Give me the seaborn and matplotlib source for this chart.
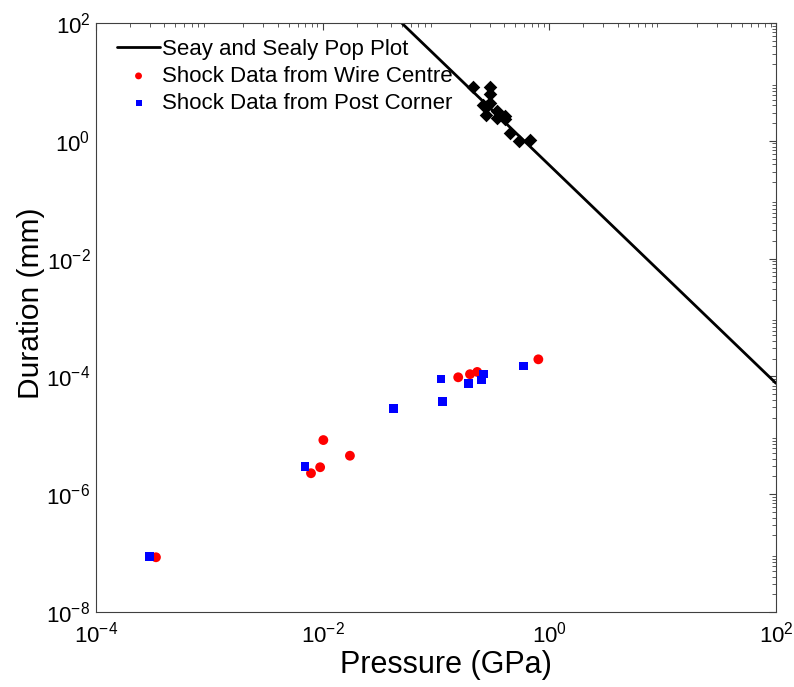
import matplotlib
matplotlib.use("Agg")
import matplotlib.pyplot as plt
import seaborn as sns
import numpy as np
import pandas as pd
from matplotlib.ticker import LogLocator, NullFormatter, FixedLocator, LogFormatterSciNotation

# ---- data ----
pop_x = [0.04, 100.0]
pop_y = [150.0, 7.64e-5]

diamond_x = [0.212, 0.301, 0.301, 0.258, 0.282, 0.301, 0.276, 0.345, 0.345, 0.403, 0.41, 0.453, 0.543, 0.680]
diamond_y = [8.19, 8.19, 6.15, 4.0, 3.90, 4.33, 2.71, 3.21, 2.47, 2.64, 2.37, 1.34, 0.99, 1.03]

wire_x = [0.80, 0.157, 0.1995, 0.231, 0.01014, 0.0174, 0.0095, 0.00789, 3.38e-4]
wire_y = [1.95e-4, 9.66e-5, 1.09e-4, 1.19e-4, 8.3e-6, 4.5e-6, 2.87e-6, 2.27e-6, 8.5e-8]

post_x = [0.589, 0.111, 0.193, 0.253, 0.261, 0.1146, 0.042, 0.00698, 2.95e-4]
post_y = [1.50e-4, 9.04e-5, 7.64e-5, 8.69e-5, 1.09e-4, 3.72e-5, 2.87e-5, 2.93e-6, 8.7e-8]

x_ticks = [1e-4, 1e-2, 1e0, 1e2]
y_ticks = [1e-8, 1e-6, 1e-4, 1e-2, 1e0, 1e2]

labels = ["Seay and Sealy Pop Plot", "Shock Data from Wire Centre", "Shock Data from Post Corner"]

sns.set_style("white")
plt.rcParams['font.family'] = ['Liberation Sans', 'DejaVu Sans']
plt.rcParams['mathtext.fontset'] = 'custom'
plt.rcParams['mathtext.rm'] = 'Liberation Sans'
plt.rcParams['mathtext.it'] = 'Liberation Sans'
plt.rcParams['axes.unicode_minus'] = False
plt.rcParams['text.color'] = 'black'
plt.rcParams['axes.labelcolor'] = 'black'

fig = plt.figure(figsize=(7.94, 6.87), dpi=100)
ax = fig.add_axes([96/794, 1-612/687, 680/794, 589/687])

pop_df = pd.DataFrame({"x": pop_x, "y": pop_y})
sns.lineplot(data=pop_df, x="x", y="y", ax=ax, color="black", linewidth=2.0,
             label=labels[0], estimator=None, sort=False)
dia_df = pd.DataFrame({"x": diamond_x, "y": diamond_y})
sns.scatterplot(data=dia_df, x="x", y="y", ax=ax, marker="D", s=48, color="black",
                edgecolor="black", linewidth=0, legend=False)
wire_df = pd.DataFrame({"x": wire_x, "y": wire_y})
sns.scatterplot(data=wire_df, x="x", y="y", ax=ax, marker="o", s=50, color="#ff0000",
                edgecolor="none", label=labels[1])
post_df = pd.DataFrame({"x": post_x, "y": post_y})
sns.scatterplot(data=post_df, x="x", y="y", ax=ax, marker="s", s=38, color="#0000ff",
                edgecolor="none", label=labels[2])

ax.set_xscale("log")
ax.set_yscale("log")
ax.set_xlim(1e-4, 1e2)
ax.set_ylim(1e-8, 1e2)
ax.xaxis.set_major_locator(FixedLocator(x_ticks))
ax.yaxis.set_major_locator(FixedLocator(y_ticks))
ax.xaxis.set_major_formatter(LogFormatterSciNotation())
ax.yaxis.set_major_formatter(LogFormatterSciNotation())
ax.xaxis.set_minor_locator(LogLocator(base=10, subs=np.arange(2, 10), numticks=20))
ax.yaxis.set_minor_locator(LogLocator(base=10, subs=np.arange(2, 10), numticks=20))
ax.xaxis.set_minor_formatter(NullFormatter())
ax.yaxis.set_minor_formatter(NullFormatter())

ax.tick_params(which="both", direction="in", top=True, right=True, colors="#404040",
               labelcolor="black", labelsize=16)
ax.tick_params(which="major", length=5, width=0.8)
ax.tick_params(which="minor", length=3, width=0.6)
ax.tick_params(axis="x", pad=7)
ax.tick_params(axis="y", pad=4)
for sp in ax.spines.values():
    sp.set_color("#404040")
    sp.set_linewidth(0.8)

ax.set_xlabel("Pressure (GPa)", fontsize=22, labelpad=2, color="black")
ax.set_ylabel("Duration (mm)", fontsize=21.5, labelpad=1, color="black")
ax.xaxis.label.set_x(0.515)
ax.yaxis.label.set_y(0.525)

leg = ax.legend(loc="upper left", bbox_to_anchor=(0.0176, 0.988), frameon=False,
                fontsize=16, handlelength=1.95, handletextpad=0.1, borderaxespad=0.0,
                labelspacing=0.26, markerscale=0.7)
for t in leg.get_texts():
    t.set_color("black")

fig.savefig("out.png", dpi=100)
